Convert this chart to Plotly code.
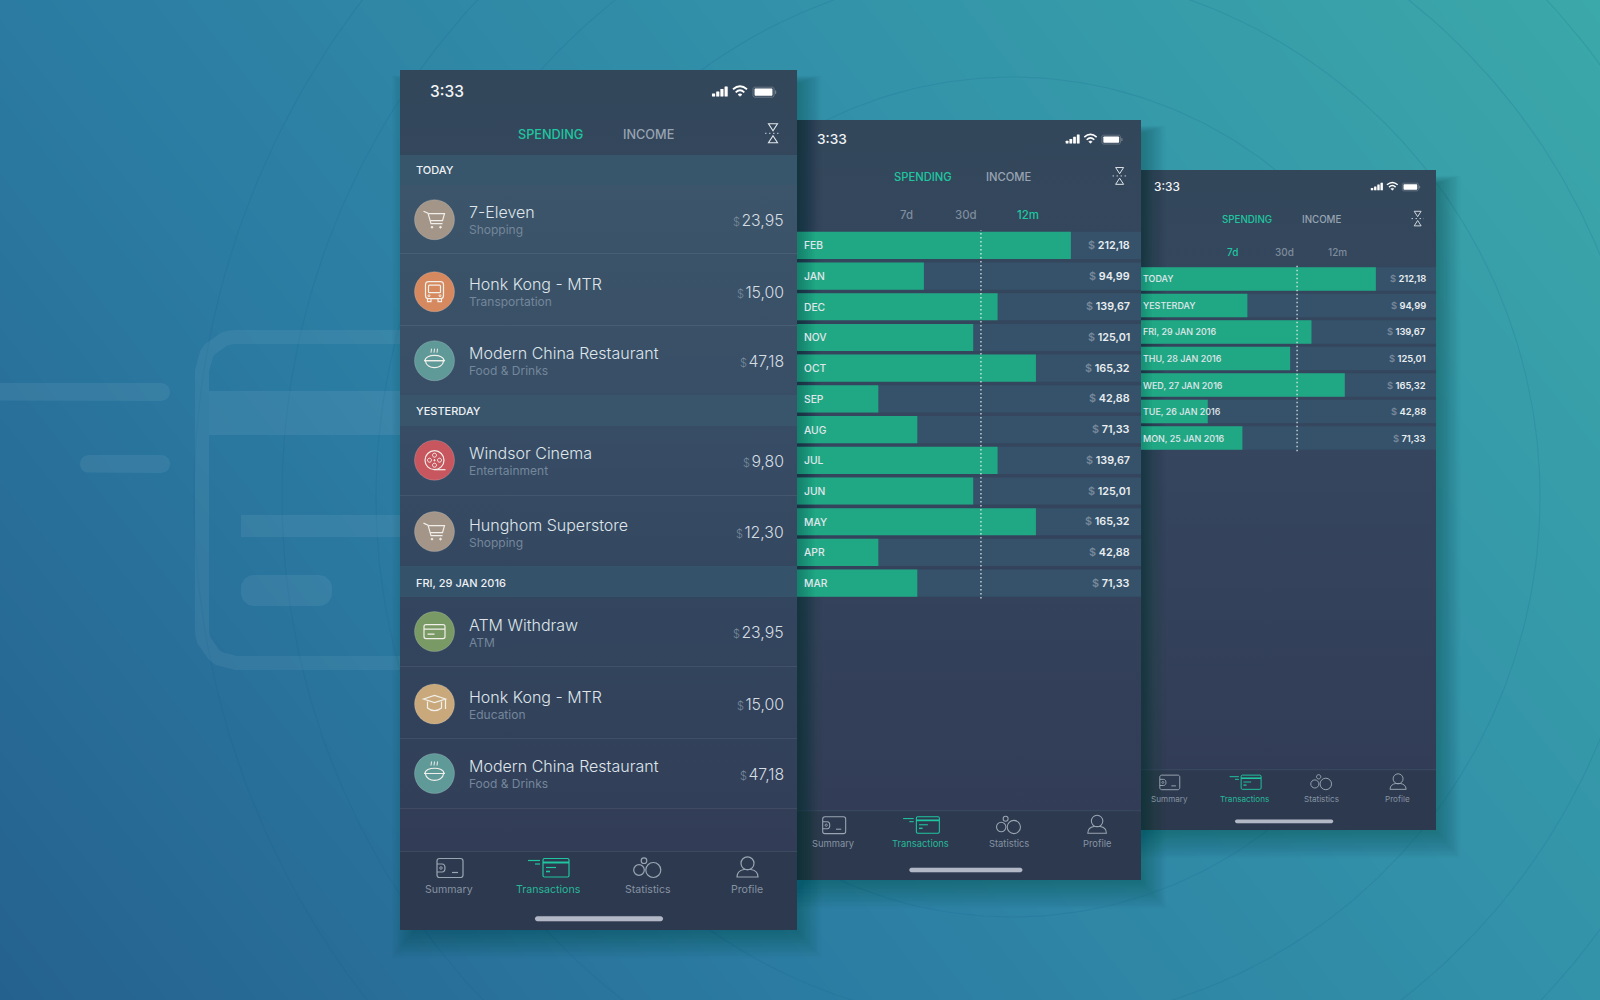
import re

import numpy as np
import plotly.graph_objects as go

W, H = 1600, 1000
FONT = "Inter"

# --- data ---
tx_names = ["7-Eleven", "Honk Kong - MTR", "Modern China Restaurant", "Windsor Cinema", "Hunghom Superstore",
            "ATM Withdraw", "Honk Kong - MTR", "Modern China Restaurant"]
tx_categories = ["Shopping", "Transportation", "Food & Drinks", "Entertainment", "Shopping", "ATM", "Education",
                 "Food & Drinks"]
tx_amounts = ["23,95", "15,00", "47,18", "9,80", "12,30", "23,95", "15,00", "47,18"]
section_labels = ["TODAY", "YESTERDAY", "FRI, 29 JAN 2016"]

months = ["FEB", "JAN", "DEC", "NOV", "OCT", "SEP", "AUG", "JUL", "JUN", "MAY", "APR", "MAR"]
month_bars = [212.18, 98.3, 155.4, 136.5, 185.1, 63.0, 93.2, 155.4, 136.5, 185.1, 63.0, 93.2]
month_amounts = ["212,18", "94,99", "139,67", "125,01", "165,32", "42,88", "71,33", "139,67", "125,01", "165,32",
                 "42,88", "71,33"]
month_mean = 142.5

days = ["TODAY", "YESTERDAY", "FRI, 29 JAN 2016", "THU, 28 JAN 2016", "WED, 27 JAN 2016", "TUE, 26 JAN 2016",
        "MON, 25 JAN 2016"]
day_bars = [212.18, 96.1, 154.0, 134.7, 184.1, 60.3, 91.6]
day_amounts = ["212,18", "94,99", "139,67", "125,01", "165,32", "42,88", "71,33"]
day_mean = 141.0

tabs = ["SPENDING", "INCOME"]
periods = ["7d", "30d", "12m"]
nav_labels = ["Summary", "Transactions", "Statistics", "Profile"]
clock = "3:33"

# --- palette ---
GREEN = "#20a884"
MINT = "#1fc6a0"
ROW = "#35526a"
SUB = "#74879b"
ICON = "#9aa5b3"
LIST_TEXT = "#dfe5ea"

fig = go.Figure()
shapes = []
notes = []


def panel(x0, y0, x1, y1, color=None, gradient=None):
    kw = {"fillcolor": color} if color else {
        "fillgradient": dict(type="vertical", colorscale=gradient, start=y0, stop=y1)}
    fig.add_trace(go.Scatter(x=[x0, x1, x1, x0, x0], y=[y0, y0, y1, y1, y0], mode="lines", fill="toself",
                             line=dict(width=0), hoverinfo="skip", showlegend=False, **kw))


def rounded_xy(x0, y0, x1, y1, r):
    t = np.linspace(0, np.pi / 2, 10)
    xs = np.concatenate([x1 - r + r * np.sin(t), x1 - r + r * np.cos(t), x0 + r - r * np.sin(t),
                         x0 + r - r * np.cos(t), [x1 - r]])
    ys = np.concatenate([y0 + r - r * np.cos(t), y1 - r + r * np.sin(t), y1 - r + r * np.cos(t),
                         y0 + r - r * np.sin(t), [y0]])
    return xs, ys


def scale_path(ox, oy, s, d):
    # d is written around (0, 0), numbers come in x y pairs
    parts = re.findall(r"[MLCQZ]|-?\d+\.?\d*", d)
    out, is_x = [], True
    for p in parts:
        if p.isalpha():
            out.append(p)
            is_x = True
        else:
            out.append(f"{(ox if is_x else oy) + float(p) * s:.2f}")
            is_x = not is_x
    return " ".join(out)


def stroke(ox, oy, s, d, color, width=1.2, fill=None):
    shapes.append(dict(type="path", path=scale_path(ox, oy, s, d), xref="x", yref="y", layer="above",
                       line=dict(color=color, width=width * max(s, 0.8)), fillcolor=fill or "rgba(0,0,0,0)"))


def rrect(x0, y0, x1, y1, r):
    k = r * 0.45
    return (f"M {x0 + r} {y0} L {x1 - r} {y0} C {x1 - k} {y0} {x1} {y0 + k} {x1} {y0 + r} "
            f"L {x1} {y1 - r} C {x1} {y1 - k} {x1 - k} {y1} {x1 - r} {y1} "
            f"L {x0 + r} {y1} C {x0 + k} {y1} {x0} {y1 - k} {x0} {y1 - r} "
            f"L {x0} {y0 + r} C {x0} {y0 + k} {x0 + k} {y0} {x0 + r} {y0} Z")


def ring(ox, oy, s, cx, cy, r, color, width=1.2, fill=None):
    stroke(ox, oy, s, rrect(cx - r, cy - r, cx + r, cy + r, r), color, width, fill)


def txt(x, y, text, size, color, anchor="left", weight=400):
    notes.append(dict(x=x, y=y, xref="x", yref="y", text=text, showarrow=False, xanchor=anchor, yanchor="middle",
                      font=dict(family=FONT, size=size, color=color, weight=weight), borderpad=0, borderwidth=0))


def phone_frame(ox, oy, s, active_period=None):
    # shared parts of a phone: clock, status icons, tabs, filter, tab bar
    def lx(v):
        return ox + v * s

    def ly(v):
        return oy + v * s

    txt(lx(30), ly(21.5), clock, 15.5 * s, "#f2f4f6", weight=500)

    for i, h in enumerate([3, 5, 7.5, 10]):
        stroke(lx(312), ly(26.5), s, rrect(i * 4.2, -h, i * 4.2 + 3.1, 0, 0.6), "#ffffff", 0.1, "#ffffff")
    wx, wy = lx(340), ly(26.3)
    stroke(wx, wy, s, "M -7 -7 Q 0 -13 7 -7", "#ffffff", 1.8)
    stroke(wx, wy, s, "M -4.3 -4 Q 0 -8 4.3 -4", "#ffffff", 1.8)
    stroke(wx, wy, s, "M -2 -1.8 L 0 0 L 2 -1.8 Q 0 -3.4 -2 -1.8 Z", "#ffffff", 0.6, "#ffffff")
    stroke(lx(353), ly(22.2), s, rrect(0, -5, 21, 5, 1.8), "#77838f", 0.8, "rgba(0,0,0,0)")
    stroke(lx(353), ly(22.2), s, rrect(1.6, -3.6, 19.4, 3.6, 1), "#ffffff", 0.1, "#ffffff")
    stroke(lx(353), ly(22.2), s, "M 22 -1.5 L 23 -1.5 L 23 1.5 L 22 1.5 Z", "#77838f", 0.4, "#77838f")

    txt(lx(150), ly(64), tabs[0], 12.7 * s, MINT, "center", 500)
    txt(lx(248), ly(64), tabs[1], 12.7 * s, "#98a4b2", "center", 500)

    fx, fy = lx(373), ly(63.3)
    stroke(fx, fy, s, "M -4.5 -9.5 L 4.5 -9.5 L 0 -2.5 Z", "#e4e8ec", 1.1)
    stroke(fx, fy, s, "M 0 2.5 L 4.5 9.5 L -4.5 9.5 Z", "#e4e8ec", 1.1)
    shapes.append(dict(type="line", xref="x", yref="y", layer="above", x0=fx - 8 * s, x1=fx + 8 * s, y0=fy, y1=fy,
                       line=dict(color="#c8ced6", width=1, dash="1.5px,2.5px")))

    if active_period is not None:
        for label, px, i in zip(periods, [132, 199, 269], range(3)):
            on = i == active_period
            txt(lx(px), ly(107), label, 13 * s, MINT if on else "#7f8c9c", "center", 500)

    # tab bar
    ny = ly(798)
    stroke(lx(49), ny, s, rrect(-12, -9.5, 14, 9.5, 2.5), ICON)
    stroke(lx(49), ny, s, "M -12 -4 L -7 -4 C -3 -4 -3 4 -7 4 L -12 4", ICON)
    ring(lx(49), ny, s, -8, 0, 1.3, ICON, 1)
    stroke(lx(49), ny, s, "M 3 4.5 L 9 4.5", ICON)

    cx = lx(148)
    stroke(cx, ny, s, rrect(-5, -9.5, 21, 9, 1.5), MINT)
    stroke(cx, ny, s, "M -5 -5.5 L 21 -5.5", MINT, 2)
    stroke(cx, ny, s, "M -2 -0.5 L 8 -0.5", MINT)
    stroke(cx, ny, s, "M -2 3.5 L 2 3.5", MINT, 1.6)
    stroke(cx, ny, s, "M -20 -7.5 L -8 -7.5", MINT)
    stroke(cx, ny, s, "M -13 -4 L -8 -4", MINT)

    sx = lx(248)
    ring(sx, ny, s, 5.3, 2, 7.5, ICON)
    ring(sx, ny, s, -9, 2, 5.3, ICON)
    ring(sx, ny, s, -4, -7.3, 2.8, ICON)

    px = lx(347)
    ring(px, ny, s, 0.5, -4.7, 6.5, ICON)
    stroke(px, ny, s, "M -10 9 C -10 4 -6 2 -3 1.5 L 4 1.5 C 7 2 11 4 11 9 Z", ICON)

    for label, nx, i in zip(nav_labels, [49, 148, 248, 347], range(4)):
        txt(lx(nx), ly(819), label, 10.6 * s, "#27b89a" if i == 1 else "#8593a3", "center")

    # home indicator
    stroke(lx(135), ly(846.2), s, rrect(0, 0, 128, 5, 2.5), "#b3b8c6", 0.1, "#b3b8c6")


def phone_body(ox, oy, x_right, y_bottom, s):
    y_nav = oy + 781 * s
    # soft shadow, mostly to the right and below
    for i in range(22):
        d = i * 1.3
        panel(ox + 14 - d * 0.8, oy + 14 - d * 0.3, x_right + d * 0.9, y_bottom + 1 + d, color="rgba(8,38,66,0.017)")
    panel(ox, oy, x_right, y_nav, gradient=[[0, "#33475b"], [0.45, "#35465e"], [1, "#323c56"]])
    panel(ox, y_nav, x_right, y_bottom, color="#2d394e")
    panel(ox, y_nav, x_right, y_nav + 1, color="#3c4a60")


def bar_panel(idx, cats, bars, amounts, mean, s, x0, x1, y0, y1):
    axis_max = 266.5
    xa, ya = f"x{idx}", f"y{idx}"
    fig.add_trace(go.Bar(y=cats, x=[axis_max] * len(cats), orientation="h", width=0.885, marker_color=ROW,
                         marker_line_width=0, xaxis=xa, yaxis=ya, hoverinfo="skip", showlegend=False))
    fig.add_trace(go.Bar(y=cats, x=bars, orientation="h", width=0.885, marker_color=GREEN, marker_line_width=0,
                         xaxis=xa, yaxis=ya, hoverinfo="skip", showlegend=False))
    fig.update_layout(**{
        f"xaxis{idx}": dict(domain=[x0 / W, x1 / W], range=[0, axis_max], visible=False, anchor=ya, fixedrange=True),
        f"yaxis{idx}": dict(domain=[1 - y1 / H, 1 - y0 / H], type="category", categoryorder="array",
                            categoryarray=cats, range=[len(cats) - 0.5, -0.5], visible=False, anchor=xa,
                            fixedrange=True),
    })
    shapes.append(dict(type="line", xref=xa, yref=f"{ya} domain", x0=mean, x1=mean, y0=0, y1=1, layer="above",
                       line=dict(color="rgba(255,255,255,0.8)", width=1.3, dash="1.5px,2.5px")))
    for cat, amount in zip(cats, amounts):
        notes.append(dict(x=0, y=cat, xref=xa, yref=ya, text=cat, showarrow=False, xanchor="left",
                          xshift=5 if idx == 2 else 0,
                          font=dict(family=FONT, size=10.3 * s / 0.884, color="#e0e7ec", weight=500)))
        notes.append(dict(x=axis_max, y=cat, xref=xa, yref=ya, showarrow=False, xanchor="right",
                          xshift=-9 * s / 0.884,
                          text=f'<span style="color:#78889a">$</span> {amount}',
                          font=dict(family=FONT, size=10.8 * s / 0.884, color="#e9edf0", weight=600)))


# --- page background ---
fig.add_trace(go.Heatmap(x=[0, W], y=[0, H], z=[[0.33, 1.0], [0.0, 0.67]], zsmooth="best", showscale=False,
                         zmin=0, zmax=1, hoverinfo="skip",
                         colorscale=[[0, "#25618f"], [0.33, "#2b7ba2"], [0.67, "#3393a9"], [1, "#3ba8a9"]]))
t = np.linspace(0, 2 * np.pi, 400)
for r in [420, 528, 636, 730, 818]:
    fig.add_trace(go.Scatter(x=1012 + r * np.cos(t), y=497 + r * np.sin(t), mode="lines", hoverinfo="skip",
                             line=dict(color="rgba(25,95,140,0.17)", width=1.1), showlegend=False))

# faded credit card behind the phones
gx, gy = rounded_xy(202, 337, 760, 663, 34)
fig.add_trace(go.Scatter(x=gx, y=gy, mode="lines", hoverinfo="skip", showlegend=False,
                         line=dict(color="rgba(255,255,255,0.06)", width=14)))
for box in [(209, 391, 760, 435, 0), (241, 515, 760, 537, 0), (241, 575, 332, 606, 13), (-20, 383, 170, 401, 9),
            (80, 455, 170, 473, 9)]:
    bx, by = rounded_xy(*box[:4], box[4]) if box[4] else (
        [box[0], box[2], box[2], box[0], box[0]], [box[1], box[1], box[3], box[3], box[1]])
    fig.add_trace(go.Scatter(x=bx, y=by, mode="lines", fill="toself", hoverinfo="skip", showlegend=False,
                             line=dict(width=0), fillcolor="rgba(255,255,255,0.065)"))

# --- phones, back to front ---
S2, S3 = 760 / 860, 660 / 860
phone_body(1131.4, 170, 1436, 830, S3)
phone_body(790, 120, 1141, 880, S2)
phone_body(400, 70, 797, 930, 1)

# list of the big phone
panel(400, 185, 797, 808, gradient=[[0, "#3c556a"], [0.35, "#384e66"], [0.7, "#33455e"], [1, "#323f58"]])
for (y0, y1, c), label, ty in zip([(155, 185, "#37566b"), (395, 426, "#38556b"), (566, 597, "#34526a")],
                                  section_labels, [170, 410.5, 582.5]):
    panel(400, y0, 797, y1, color=c)
    txt(416, ty, label, 11, "#eef1f4", weight=500)
for y in [253, 325, 495, 666, 738, 808]:
    panel(400, y, 797, y + 1, color="rgba(255,255,255,0.07)")

row_name_y = [212, 284, 353, 452.5, 525, 625, 696.5, 766]
row_sub_y = [229.6, 301.6, 370.6, 470, 542.6, 642.6, 714, 783.4]
row_icon_y = [219.7, 291.7, 360.7, 460.2, 531.6, 631.6, 704, 773.5]
row_amount_y = [220, 292, 361, 461, 532, 632, 704.5, 774]
row_colors = ["#a39688", "#d6895f", "#5f9a99", "#c8565f", "#a39688", "#7a9a65", "#c9a97b", "#5f9a99"]
IC = "#f1efe9"


def cart(x, y):
    stroke(x, y, 1, "M -11 -8.5 L -6.5 -6.5 L -3.5 4 L 8 4", IC)
    stroke(x, y, 1, "M -6 -6 L 10 -6 L 8 1 L -4.2 1", IC)
    ring(x, y, 1, -2.5, 7.5, 0.9, IC, 1, IC)
    ring(x, y, 1, 6, 7.5, 0.9, IC, 1, IC)


def bus(x, y):
    stroke(x, y, 1, rrect(-9, -10, 9, 7, 3), IC)
    stroke(x, y, 1, rrect(-6, -6.5, 6, 1, 1), IC)
    stroke(x, y, 1, "M -7 7 L -7 10 L -3.5 10 L -3.5 7 M 3.5 7 L 3.5 10 L 7 10 L 7 7", IC)
    ring(x, y, 1, -5.5, 4, 1, IC, 1)
    ring(x, y, 1, 5.5, 4, 1, IC, 1)


def bowl(x, y):
    stroke(x, y, 1, "M -3 -12 L -3.5 -8 M 0 -12 L -0.5 -8 M 3 -12 L 2.5 -8", IC, 1)
    stroke(x, y, 1, "M -9.5 0 C -9.5 -7 9.5 -7 9.5 0 Z", IC)
    stroke(x, y, 1, "M -10.5 0 L 10.5 0 M -9 0.5 C -8 9 8 9 9 0.5", IC)


def reel(x, y):
    ring(x, y, 1, 0, 0, 9.5, IC)
    for dx, dy in [(0, -5), (-5, 0), (5, 0), (0, 5)]:
        ring(x, y, 1, dx, dy, 2, IC, 1)
    ring(x, y, 1, 0, 0, 0.7, IC, 1, IC)
    stroke(x, y, 1, "M 0 9.5 L 11 9.5", IC)


def card(x, y):
    stroke(x, y, 1, rrect(-10.5, -7, 10.5, 7, 2), IC)
    stroke(x, y, 1, "M -10.5 -2.5 L 10.5 -2.5 M -7 2.5 L 0 2.5", IC)


def cap(x, y):
    stroke(x, y, 1, "M -11 -5 L 0 -8.5 L 11 -5 L 0 -1.5 Z", IC)
    stroke(x, y, 1, "M -7 -2.5 L -7 4 C -3 7.5 3 7.5 7 4 L 7 -2.5", IC)
    stroke(x, y, 1, "M 11 -5 L 11 5", IC)


row_icons = [cart, bus, bowl, reel, cart, card, cap, bowl]
for name, sub, amount, ny, sy, iy, ay, col, icon in zip(tx_names, tx_categories, tx_amounts, row_name_y, row_sub_y,
                                                        row_icon_y, row_amount_y, row_colors, row_icons):
    shapes.append(dict(type="circle", xref="x", yref="y", layer="above", x0=414.5, x1=454.5, y0=iy - 20, y1=iy + 20,
                       fillcolor=col, line=dict(color="rgba(255,255,255,0.18)", width=1)))
    icon(434.5, iy)
    txt(469.3, ny, name, 16, LIST_TEXT, weight=300)
    txt(469.3, sy, sub, 12, SUB)
    txt(784.3, ay, f'<span style="color:#788a9c;font-size:11px">$</span>\u200a{amount}', 15.8, "#d5dce2", "right", 300)

phone_frame(1131.4, 170, S3, active_period=0)
phone_frame(790, 120, S2, active_period=2)
phone_frame(400, 70, 1)

# --- the two bar charts ---
bar_panel(2, months, month_bars, month_amounts, month_mean, S2, 797, 1141, 230, 598.5)
bar_panel(3, days, day_bars, day_amounts, day_mean, S3, 1141, 1436, 265.7, 451.3)

# shadow of a phone falling on the bars of the one behind it
for left, top, bottom, steps in [(797, 120, 880, 8), (1141, 170, 830, 5)]:
    for i in range(steps):
        shapes.append(dict(type="rect", xref="x", yref="y", layer="above", x0=left, x1=left + (steps - i) * 2.2,
                           y0=top, y1=bottom, fillcolor="rgba(10,25,45,0.035)", line=dict(width=0)))

fig.update_layout(
    width=W, height=H, margin=dict(l=0, r=0, t=0, b=0, pad=0), showlegend=False, barmode="overlay",
    paper_bgcolor="#2b7ba2", plot_bgcolor="rgba(0,0,0,0)",
    xaxis=dict(range=[0, W], domain=[0, 1], visible=False, fixedrange=True),
    yaxis=dict(range=[H, 0], domain=[0, 1], visible=False, fixedrange=True),
    shapes=shapes, annotations=notes,
)

fig.write_html("out.html", config={"displayModeBar": False},
               post_script="document.body.style.margin='0';document.documentElement.style.overflow='hidden';")
